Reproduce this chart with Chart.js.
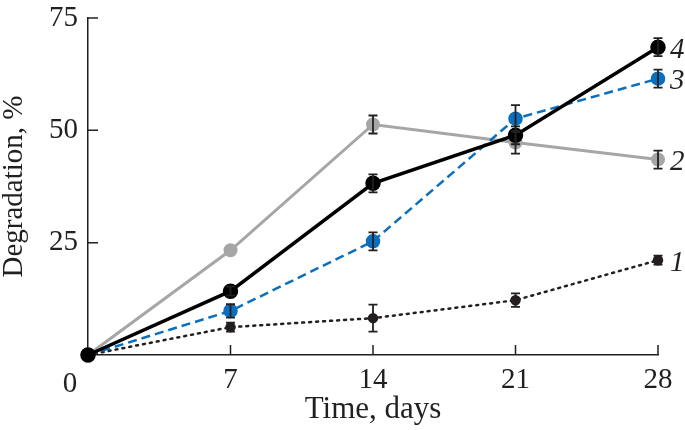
<!DOCTYPE html>
<html>
<head>
<meta charset="utf-8">
<script src="https://cdn.jsdelivr.net/npm/chart.js@4"></script>
<style>
  html, body { margin: 0; padding: 0; background: #fff; }
  #wrap { width: 685px; height: 430px; }
</style>
</head>
<body>
<div id="wrap"><canvas id="line-chart"></canvas></div>
<script>
const days = [0, 7, 14, 21, 28];
const yTicks = [0, 25, 50, 75];
const curveLabels = ['1', '2', '3', '4'];

const s1 = [0, 6.2, 8.2, 12.2, 21.1];
const e1 = [0, 1, 3, 1.5, 1];
const s2 = [0, 23.3, 51.3, 47.3, 43.5];
const e2 = [0, 0, 2, 2.5, 2];
const s3 = [0, 9.8, 25.3, 52.6, 61.5];
const e3 = [0, 1.5, 2, 3, 2];
const s4 = [0, 14.2, 38.2, 48.9, 68.5];
const e4 = [0, 1, 2, 2, 2];

const FONT = "'Liberation Serif', 'Times New Roman', serif";
const INK = '#231f20';

function pts(vals) {
    return days.map((d, i) => ({ x: d, y: vals[i] }));
}

// error bars, drawn from the errors arrays through the scales
const errorBars = {
    id: 'errorBars',
    afterDatasetsDraw(chart) {
        const ctx = chart.ctx;
        const xs = chart.scales.x, ys = chart.scales.y;
        ctx.save();
        ctx.strokeStyle = INK;
        ctx.lineWidth = 1.8;
        chart.data.datasets.forEach(ds => {
            ds.data.forEach((p, i) => {
                const err = ds.errors[i];
                if (!err) return;
                const px = xs.getPixelForValue(p.x);
                const top = ys.getPixelForValue(p.y + err);
                const bot = ys.getPixelForValue(p.y - err);
                ctx.beginPath();
                ctx.moveTo(px, top); ctx.lineTo(px, bot);
                ctx.moveTo(px - 4.5, top); ctx.lineTo(px + 4.5, top);
                ctx.moveTo(px - 4.5, bot); ctx.lineTo(px + 4.5, bot);
                ctx.stroke();
            });
        });
        ctx.restore();
    }
};

// inside tick marks, origin "0", curve numbers
const decorations = {
    id: 'decorations',
    afterDraw(chart) {
        const ctx = chart.ctx;
        const xs = chart.scales.x, ys = chart.scales.y;
        const area = chart.chartArea;
        ctx.save();
        ctx.strokeStyle = INK;
        ctx.lineWidth = 1.5;
        ctx.beginPath();
        days.forEach(d => {
            if (d === 0) return;
            const px = xs.getPixelForValue(d);
            ctx.moveTo(px, area.bottom); ctx.lineTo(px, area.bottom - 10);
        });
        yTicks.forEach(v => {
            if (v === 0) return;
            const py = ys.getPixelForValue(v);
            ctx.moveTo(area.left, py); ctx.lineTo(area.left + 10, py);
        });
        ctx.stroke();

        ctx.fillStyle = INK;
        ctx.font = '29px ' + FONT;
        ctx.textAlign = 'center';
        ctx.textBaseline = 'middle';
        ctx.fillText('0', xs.getPixelForValue(0) - 18, 384);

        ctx.font = 'italic 29px ' + FONT;
        ctx.textAlign = 'left';
        chart.data.datasets.forEach((ds, i) => {
            const last = ds.data[ds.data.length - 1];
            ctx.fillText(curveLabels[i], xs.getPixelForValue(last.x) + 12, ys.getPixelForValue(last.y) + 3);
        });
        ctx.restore();
    }
};

const ctx = document.getElementById('line-chart').getContext('2d');
const chart = new Chart(ctx, {
    type: 'line',
    data: {
        datasets: [
            {
                label: '1',
                data: pts(s1),
                errors: e1,
                borderColor: INK,
                backgroundColor: INK,
                borderWidth: 2.5,
                borderDash: [2, 5],
                borderCapStyle: 'round',
                pointRadius: 4,
                order: 3
            },
            {
                label: '2',
                data: pts(s2),
                errors: e2,
                borderColor: '#a6a6a6',
                backgroundColor: '#a6a6a6',
                borderWidth: 3,
                pointRadius: 5.5,
                order: 4
            },
            {
                label: '3',
                data: pts(s3),
                errors: e3,
                borderColor: '#0b6fbd',
                backgroundColor: '#0b6fbd',
                borderWidth: 2.5,
                borderDash: [9, 5],
                pointRadius: 6,
                order: 2
            },
            {
                label: '4',
                data: pts(s4),
                errors: e4,
                borderColor: '#000',
                backgroundColor: '#000',
                borderWidth: 3.5,
                pointRadius: 6,
                order: 1
            }
        ]
    },
    options: {
        responsive: true,
        maintainAspectRatio: false,
        animation: false,
        clip: false,
        layout: { padding: { left: 0, right: 27, top: 18, bottom: 0 } },
        elements: {
            line: { tension: 0 },
            point: { pointStyle: 'circle', borderWidth: 0, hoverRadius: 6 }
        },
        scales: {
            x: {
                type: 'linear',
                min: 0,
                max: 28,
                afterFit(scale) { scale.height = 75; scale.paddingRight = 0; },
                grid: { drawOnChartArea: false, drawTicks: false },
                border: { color: INK, width: 1.5 },
                ticks: {
                    stepSize: 7,
                    padding: 8,
                    color: INK,
                    font: { family: FONT, size: 29 },
                    callback: v => (v === 0 ? '' : v)
                },
                title: {
                    display: true,
                    text: 'Time, days',
                    color: INK,
                    font: { family: FONT, size: 31, lineHeight: 1.0 },
                    padding: { top: 0, bottom: 5 }
                }
            },
            y: {
                min: 0,
                max: 75,
                afterFit(scale) { scale.width = 88; scale.paddingTop = 0; },
                grid: { drawOnChartArea: false, drawTicks: false },
                border: { color: INK, width: 1.5 },
                ticks: {
                    stepSize: 25,
                    padding: 10,
                    color: INK,
                    font: { family: FONT, size: 29 },
                    callback: v => (v === 0 ? '' : v)
                },
                title: {
                    display: true,
                    text: 'Degradation, %',
                    color: INK,
                    font: { family: FONT, size: 29, lineHeight: 1.0 },
                    padding: 0
                }
            }
        },
        plugins: {
            legend: { display: false },
            tooltip: { enabled: false }
        }
    },
    plugins: [errorBars, decorations]
});
</script>
</body>
</html>
